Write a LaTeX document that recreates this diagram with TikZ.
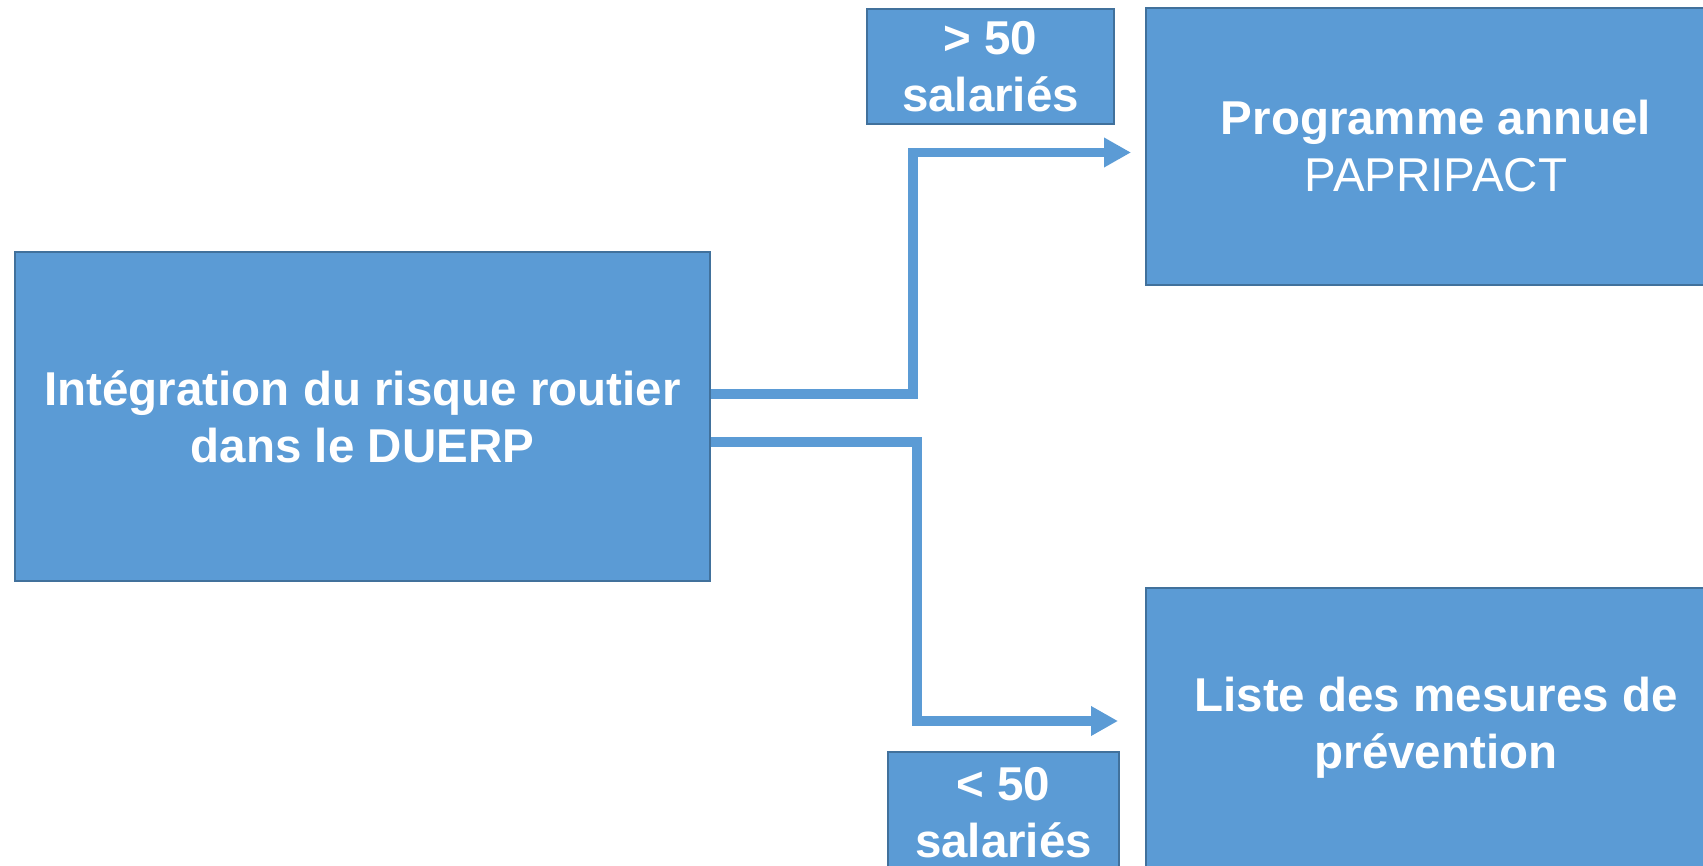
\documentclass[tikz,border=0pt]{standalone}
\usepackage{fontspec}
\setmainfont{Liberation Sans}
\usepackage{xcolor}
\usepackage{tikz}
\usetikzlibrary{positioning,calc,arrows.meta}
\definecolor{boxfill}{HTML}{5B9BD5}
\definecolor{boxline}{HTML}{41719C}

\begin{document}
\begin{tikzpicture}[x=1pt, y=-1pt,
    bloc/.style={draw=boxline, line width=2pt, fill=boxfill, text=white, inner sep=0pt,
        align=center, font=\fontsize{47.5}{57}\selectfont\bfseries},
    link/.style={draw=boxfill, line width=9.5pt, -{Triangle[length=27pt,width=28pt]}}]
    \useasboundingbox (0,0) rectangle (1703,866);

    % Main box
    \node[bloc, minimum width=695pt, minimum height=329pt] (duerp) at (362.5,416.5)
        {Intégration du risque routier\\dans le DUERP};

    % Outcomes
    \node[bloc, minimum width=580pt, minimum height=277pt] (prog) at (1436,146.5)
        {Programme annuel\\\mdseries PAPRIPACT};
    \node[bloc, minimum width=580pt, minimum height=280pt] (liste) at (1436,728)
        {Liste des mesures de\\prévention};

    % Thresholds
    \node[bloc, minimum width=247pt, minimum height=115pt] (plus) at (990.5,66.5)
        {> 50\\salariés};
    \node[bloc, minimum width=231pt, minimum height=122pt] (moins) at (1003.5,813)
        {< 50\\salariés};

    % Connectors
    \draw[link] ([yshift=22.5pt]duerp.east) -- ++(202,0) |- ([xshift=-14pt,yshift=-6pt]prog.west);
    \draw[link] ([yshift=-25.5pt]duerp.east) -- ++(206,0) |- ([xshift=-27pt,yshift=7pt]liste.west);
\end{tikzpicture}
\end{document}
